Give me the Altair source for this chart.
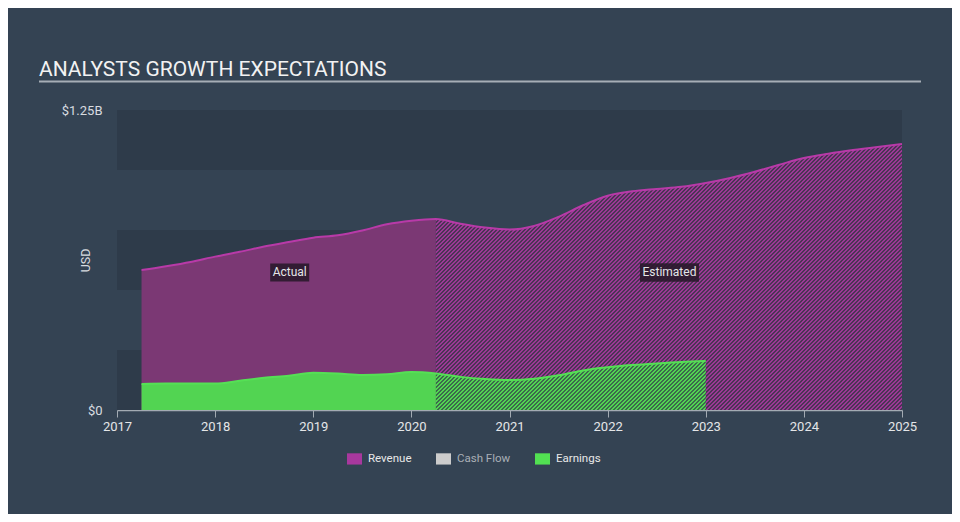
import altair as alt
import pandas as pd

# ---------------- data ----------------
title_text = "ANALYSTS GROWTH EXPECTATIONS"

years_actual = [2017.25, 2017.5, 2017.75, 2018.0, 2018.25, 2018.5, 2018.75,
                2019.0, 2019.25, 2019.5, 2019.75, 2020.0, 2020.25]
revenue_actual = [0.583, 0.599, 0.617, 0.639, 0.659, 0.681, 0.700,
                  0.718, 0.728, 0.748, 0.774, 0.789, 0.796]
earnings_actual = [0.108, 0.110, 0.110, 0.110, 0.122, 0.134, 0.143,
                   0.155, 0.152, 0.146, 0.149, 0.158, 0.152]

years_rev_est = [2020.25, 2020.5, 2020.75, 2021.0, 2021.25, 2021.5, 2021.75,
                 2022.0, 2022.25, 2022.5, 2022.75, 2023.0, 2023.25, 2023.5,
                 2023.75, 2024.0, 2024.25, 2024.5, 2024.75, 2025.0]
revenue_est = [0.796, 0.776, 0.760, 0.752, 0.767, 0.805, 0.853,
               0.893, 0.911, 0.921, 0.930, 0.946, 0.967, 0.993,
               1.022, 1.050, 1.068, 1.083, 1.096, 1.108]

years_earn_est = [2020.25, 2020.5, 2020.75, 2021.0, 2021.25, 2021.5, 2021.75,
                  2022.0, 2022.25, 2022.5, 2022.75, 2023.0]
earnings_est = [0.152, 0.138, 0.129, 0.125, 0.130, 0.145, 0.165,
                0.178, 0.187, 0.194, 0.200, 0.204]

x_ticks = [2017, 2018, 2019, 2020, 2021, 2022, 2023, 2024, 2025]
y_ticks = [0, 1.25]
band_lo = [0.0, 0.5, 1.0]
band_hi = [0.25, 0.75, 1.25]

annot_text = ["Actual", "Estimated"]
annot_x = [2018.76, 2022.63]
annot_y = [0.573, 0.573]

legend_names = ["Revenue", "Cash Flow", "Earnings"]
legend_colors = ["#a8389e", "#cccccc", "#52e052"]

# ---------------- tables ----------------
rev_act = pd.DataFrame({"x": years_actual, "y": revenue_actual})
earn_act = pd.DataFrame({"x": years_actual, "y": earnings_actual})
rev_est = pd.DataFrame({"x": years_rev_est, "y": revenue_est})
earn_est = pd.DataFrame({"x": years_earn_est, "y": earnings_est})
rev_all = pd.DataFrame({"x": years_actual + years_rev_est[1:],
                        "y": revenue_actual + revenue_est[1:]})
earn_all = pd.DataFrame({"x": years_actual + years_earn_est[1:],
                         "y": earnings_actual + earnings_est[1:]})
bands = pd.DataFrame({"lo": band_lo, "hi": band_hi,
                      "x0": [x_ticks[0]] * 3, "x1": [x_ticks[-1]] * 3})
annots = pd.DataFrame({"t": annot_text, "x": annot_x, "y": annot_y})
legend_df = pd.DataFrame({"name": legend_names})
title_df = pd.DataFrame({"t": [title_text]})

# ---------------- styles ----------------
BG = "#344353"
BAND = "#2e3b4a"
FONT = "Roboto"
AXIS_GREY = "#a3abb3"
LABEL = "#e4e6e8"
PLOT_W = 785
PLOT_H = 300

xscale = alt.Scale(domain=[x_ticks[0], x_ticks[-1]], nice=False, zero=False)
yscale = alt.Scale(domain=[y_ticks[0], y_ticks[-1]], nice=False)
xaxis = alt.Axis(values=x_ticks, format="d", grid=False, domainColor=AXIS_GREY,
                 domainWidth=1.5, tickColor=AXIS_GREY, tickSize=7, tickWidth=1,
                 labelColor=LABEL, labelFontSize=13, labelFont=FONT,
                 labelPadding=3, title=None, labelFlush=False)
yaxis = alt.Axis(values=y_ticks, grid=False, domain=False, ticks=False,
                 labelExpr="datum.value == 0 ? '$0' : '$1.25B'",
                 labelColor="#d8dce0", labelFontSize=13, labelFont=FONT,
                 labelPadding=15, title="USD", titleColor="#d8dce0",
                 titleFont=FONT, titleFontSize=12.5, titleFontWeight="normal",
                 titleAngle=270, titleX=-32, titleY=150, titleAlign="center",
                 titleBaseline="middle")


def X(f="x"):
    return alt.X(f, type="quantitative", scale=xscale, axis=xaxis)


def Y(f="y"):
    return alt.Y(f, type="quantitative", scale=yscale, axis=yaxis)


def hatch(stripe, gap, xs, ys, period, frac):
    # 45-degree stripes over the bounding box of an area mark
    w = (max(xs) - min(xs)) / (x_ticks[-1] - x_ticks[0]) * PLOT_W
    h = max(ys) / (y_ticks[-1] - y_ticks[0]) * PLOT_H
    r = h / w
    k = (1 + r) / (1 + r * r)
    n = (w + h) / period
    stops = []
    i = 0
    while i / n < 1.0:
        a = i / n
        b = min((i + frac) / n, 1.0)
        c = min((i + 1) / n, 1.0)
        stops += [alt.GradientStop(color=stripe, offset=a),
                  alt.GradientStop(color=stripe, offset=b),
                  alt.GradientStop(color=gap, offset=b),
                  alt.GradientStop(color=gap, offset=c)]
        i += 1
    return alt.Gradient(gradient="linear", x1=0, y1=0, x2=k, y2=k * r,
                        stops=stops)


rev_hatch = hatch("#9c3896", "#4b3455", years_rev_est, revenue_est, 4, 0.4)
earn_hatch = hatch("#52d452", "#3c6a4c", years_earn_est, earnings_est, 4, 0.45)

# ---------------- layers ----------------
band_layer = alt.Chart(bands).mark_rect(color=BAND).encode(
    x=X("x0"), x2="x1", y=Y("lo"), y2="hi")

rev_act_area = alt.Chart(rev_act).mark_area(
    color="#7b3874", interpolate="monotone").encode(x=X(), y=Y())
rev_est_area = alt.Chart(rev_est).mark_area(
    color=rev_hatch, interpolate="monotone").encode(x=X(), y=Y())
earn_act_area = alt.Chart(earn_act).mark_area(
    color="#52d452", interpolate="monotone").encode(x=X(), y=Y())
earn_est_area = alt.Chart(earn_est).mark_area(
    color=earn_hatch, interpolate="monotone").encode(x=X(), y=Y())

rev_line = alt.Chart(rev_all).mark_line(
    color="#b83aa8", strokeWidth=2, interpolate="monotone").encode(x=X(), y=Y())
earn_line = alt.Chart(earn_all).mark_line(
    color="#55e055", strokeWidth=2, interpolate="monotone").encode(x=X(), y=Y())

box_actual = alt.Chart(annots[annots.t == "Actual"]).mark_point(
    filled=True, shape="M-1,-0.4615L1,-0.4615L1,0.4615L-1,0.4615Z",
    size=1521, color="#2a1a2c", opacity=0.9, strokeWidth=0).encode(x=X(), y=Y())
box_est = alt.Chart(annots[annots.t == "Estimated"]).mark_point(
    filled=True, shape="M-1,-0.317L1,-0.317L1,0.317L-1,0.317Z",
    size=3481, color="#2a1a2c", opacity=0.9, strokeWidth=0).encode(x=X(), y=Y())
annot_layer = alt.Chart(annots).mark_text(
    color=LABEL, fontSize=12, font=FONT, align="center", baseline="middle").encode(
    x=X(), y=Y(), text="t")

title_layer = alt.Chart(title_df).mark_text(
    color="#f2f2f2", fontSize=21, font=FONT, align="left",
    baseline="alphabetic").encode(x=alt.value(-78), y=alt.value(-34), text="t")
title_rule = alt.Chart(title_df).mark_rule(
    color="#a6aeb6", strokeWidth=2).encode(
    x=alt.value(-78), x2=alt.value(804), y=alt.value(-28.5))

legend_layer = alt.Chart(legend_df).mark_point(filled=True, opacity=0).encode(
    color=alt.Color("name:N",
                    scale=alt.Scale(domain=legend_names, range=legend_colors),
                    legend=alt.Legend(
                        title=None, orient="none", legendX=230, legendY=341,
                        direction="horizontal",
                        symbolType="M-1,-0.75L1,-0.75L1,0.75L-1,0.75Z",
                        symbolSize=225, symbolOpacity=1, symbolStrokeWidth=0,
                        labelColor=alt.ExprRef("datum.label == 'Cash Flow' ? '#a9afb6' : '#e8e8e8'"),
                        labelFont=FONT, labelFontSize=11.5, labelOffset=6,
                        columnPadding=24, padding=0)))

chart = alt.layer(
    band_layer, rev_act_area, rev_est_area, earn_act_area, earn_est_area,
    rev_line, earn_line, box_actual, box_est, annot_layer,
    title_layer, title_rule, legend_layer
).properties(
    width=PLOT_W, height=PLOT_H,
    autosize=alt.AutoSizeParams(type="none"),
    padding={"left": 109, "top": 102, "right": 50, "bottom": 104},
    background=BG,
).configure_view(stroke=None)

chart.save("out.html", embed_options={"renderer": "svg", "actions": False})
